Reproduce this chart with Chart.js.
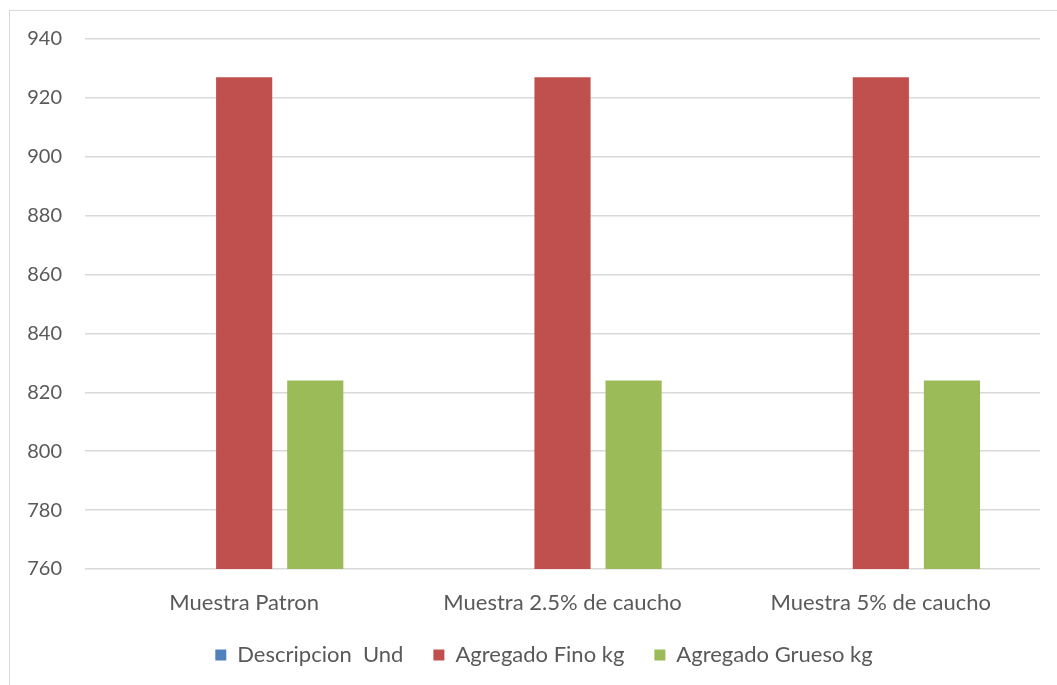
<!DOCTYPE html>
<html>
<head>
<meta charset="utf-8">
<script src="https://cdn.jsdelivr.net/npm/chart.js@4.4.1/dist/chart.umd.min.js"></script>
<style>
    html, body { margin: 0; padding: 0; background: #ffffff; overflow: hidden; }
    #frame {
        position: absolute; left: 9px; top: 10px;
        width: 1070px; height: 700px;
        border: 1px solid #d9d9d9;
    }
    #wrap { position: absolute; left: 0; top: 0; width: 1057px; height: 685px; }
</style>
</head>
<body>
<div id="frame"></div>
<div id="wrap"><canvas id="chart"></canvas></div>
<script>
// Datos del grafico
const categorias = ['Muestra Patron', 'Muestra 2.5% de caucho', 'Muestra 5% de caucho'];
const descripcionUnd = [null, null, null];
const agregadoFino = [927, 927, 927];
const agregadoGrueso = [824, 824, 824];
const ticksY = [760, 780, 800, 820, 840, 860, 880, 900, 920, 940];

const textColor = '#595959';
const fontFamily = 'Lato, "Liberation Sans", sans-serif';

// centra la leyenda bajo el area del grafico (como en Excel)
const legendShift = {
    id: 'legendShift',
    afterLayout(chart) {
        if (chart.legend) chart.legend.left += 48;
    }
};

const ctx = document.getElementById('chart');

new Chart(ctx, {
    type: 'bar',
    data: {
        labels: categorias,
        datasets: [
            {
                label: 'Descripcion  Und',
                data: descripcionUnd,
                backgroundColor: '#4F81BD'
            },
            {
                label: 'Agregado Fino kg',
                data: agregadoFino,
                backgroundColor: '#C0504D'
            },
            {
                label: 'Agregado Grueso kg',
                data: agregadoGrueso,
                backgroundColor: '#9BBB59'
            }
        ]
    },
    plugins: [legendShift],
    options: {
        responsive: true,
        maintainAspectRatio: false,
        animation: false,
        categoryPercentage: 0.67,
        barPercentage: 0.79,
        layout: {
            padding: { top: 39, right: 17, bottom: 9, left: 0 }
        },
        scales: {
            x: {
                grid: { display: false, drawTicks: false },
                border: { display: false },
                ticks: {
                    color: textColor,
                    font: { family: fontFamily, size: 22 },
                    padding: 21
                },
                afterFit: function(scale) { scale.height = 45; }
            },
            y: {
                min: ticksY[0],
                max: ticksY[ticksY.length - 1],
                afterBuildTicks: function(scale) {
                    scale.ticks = ticksY.map(v => ({ value: v }));
                },
                grid: { color: '#d9d9d9', lineWidth: 1.5, drawTicks: false },
                border: { display: false },
                ticks: {
                    color: textColor,
                    font: { family: fontFamily, size: 20 },
                    padding: 23
                },
                afterFit: function(scale) { scale.width = 85; }
            }
        },
        plugins: {
            legend: {
                position: 'bottom',
                labels: {
                    color: textColor,
                    font: { family: fontFamily, size: 22 },
                    boxWidth: 11,
                    boxHeight: 11,
                    padding: 30
                }
            },
            tooltip: { enabled: false }
        }
    }
});
</script>
</body>
</html>
